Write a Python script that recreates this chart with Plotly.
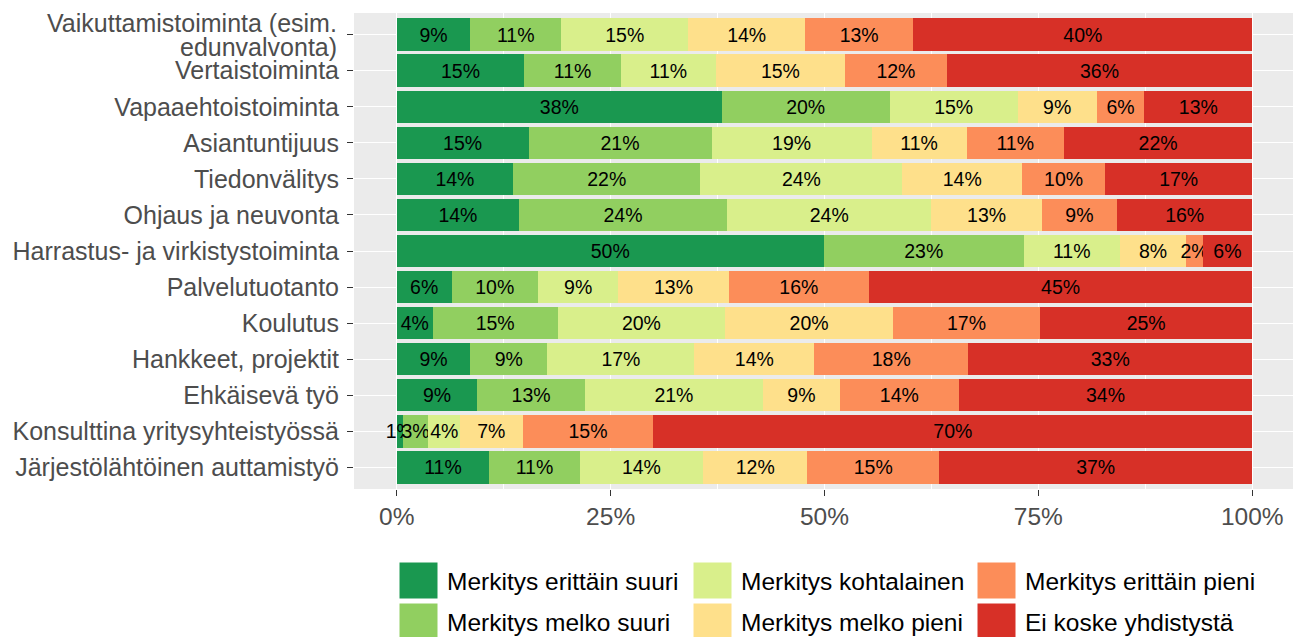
import plotly.graph_objects as go

categories = [
    "Vaikuttamistoiminta (esim. edunvalvonta)",
    "Vertaistoiminta",
    "Vapaaehtoistoiminta",
    "Asiantuntijuus",
    "Tiedonvälitys",
    "Ohjaus ja neuvonta",
    "Harrastus- ja virkistystoiminta",
    "Palvelutuotanto",
    "Koulutus",
    "Hankkeet, projektit",
    "Ehkäisevä työ",
    "Konsulttina yritysyhteistyössä",
    "Järjestölähtöinen auttamistyö",
]
# first label is wrapped onto two tightly spaced lines (drawn as annotations)
first_label_lines = ["Vaikuttamistoiminta (esim.", "edunvalvonta)"]

series_names = [
    "Merkitys erittäin suuri",
    "Merkitys melko suuri",
    "Merkitys kohtalainen",
    "Merkitys melko pieni",
    "Merkitys erittäin pieni",
    "Ei koske yhdistystä",
]

erittain_suuri = [8.6, 14.9, 38.0, 15.4, 13.6, 14.3, 49.9, 6.4, 4.2, 8.6, 9.4, 0.7, 10.8]
melko_suuri = [10.6, 11.3, 19.6, 21.4, 21.9, 24.3, 23.4, 10.1, 14.6, 9.0, 12.6, 3.0, 10.6]
kohtalainen = [14.9, 11.1, 15.0, 18.7, 23.6, 23.9, 11.2, 9.4, 19.6, 17.2, 20.8, 3.7, 14.4]
melko_pieni = [13.6, 15.1, 9.2, 11.1, 14.0, 12.9, 7.8, 12.9, 19.6, 14.0, 9.0, 7.3, 12.2]
erittain_pieni = [12.7, 11.9, 5.6, 11.4, 9.7, 8.8, 1.9, 16.4, 17.2, 18.0, 13.9, 15.3, 15.4]
ei_koske = [39.6, 35.7, 12.6, 22.0, 17.2, 15.8, 5.8, 44.8, 24.8, 33.2, 34.3, 70.0, 36.6]

series_values = [erittain_suuri, melko_suuri, kohtalainen, melko_pieni, erittain_pieni, ei_koske]
colors = ["#1a9850", "#91cf60", "#d9ef8b", "#fee08b", "#fc8d59", "#d73027"]

x_ticks = [0, 25, 50, 75, 100]
x_ticktext = ["0%", "25%", "50%", "75%", "100%"]

FONT = "Liberation Sans, Arial, sans-serif"
# page has an 8px body margin, so the figure sits at (8, 8) in the window
OFF = 8
W, H = 1293, 629
ML, MR, MT, MB = 346, 6, 5, 148
PW, PH = W - ML - MR, H - MT - MB

fig = go.Figure()
for name, vals, col in zip(series_names, series_values, colors):
    fig.add_trace(
        go.Bar(
            x=vals,
            y=categories,
            orientation="h",
            name=name,
            marker=dict(color=col, line=dict(width=0)),
            width=0.9,
            text=[f"{v:.0f}%" for v in vals],
            textposition="inside",
            insidetextanchor="middle",
            textangle=0,
            constraintext="none",
            textfont=dict(family=FONT, size=19.5, color="black"),
            showlegend=False,
            hoverinfo="x+y+name",
        )
    )


def px_x(v):
    return (v - OFF - ML) / PW


def px_y(v):
    return (H - MB - (v - OFF)) / PH


annotations = []
for line, shift in zip(first_label_lines, [12, -12]):
    annotations.append(
        dict(
            text=line, xref="paper", yref="y", x=0, y=categories[0],
            xanchor="right", yanchor="middle", xshift=-15, yshift=shift,
            showarrow=False, font=dict(family=FONT, size=25, color="#4d4d4d"),
        )
    )

# ggplot-like legend below the panel: 3 columns x 2 rows, filled column-wise
col_left = [399, 693, 977]
row_top = [562, 603]
shapes = []
for i, (name, col) in enumerate(zip(series_names, colors)):
    c, r = divmod(i, 2)
    x0, y0 = col_left[c], row_top[r]
    shapes.append(
        dict(
            type="rect", xref="paper", yref="paper",
            x0=px_x(x0), x1=px_x(x0 + 39), y0=px_y(y0 + 37), y1=px_y(y0),
            fillcolor=col, line=dict(width=1, color="white"), layer="above",
        )
    )
    annotations.append(
        dict(
            text=name, xref="paper", yref="paper",
            x=px_x(x0 + 46), y=px_y(y0 + 19.5),
            xanchor="left", yanchor="middle", showarrow=False,
            font=dict(family=FONT, size=24.5, color="black"),
        )
    )

fig.update_layout(
    barmode="stack",
    width=W,
    height=H,
    margin=dict(l=ML, r=MR, t=MT, b=MB),
    paper_bgcolor="white",
    plot_bgcolor="#ebebeb",
    font=dict(family=FONT, size=24, color="#4d4d4d"),
    showlegend=False,
    shapes=shapes,
    annotations=annotations,
    xaxis=dict(
        range=[-5, 105],
        tickvals=x_ticks,
        ticktext=x_ticktext,
        showgrid=True,
        gridcolor="white",
        gridwidth=1.2,
        zeroline=False,
        ticks="outside",
        ticklen=6,
        tickcolor="#333333",
        tickfont=dict(family=FONT, size=24.5, color="#4d4d4d"),
        minor=dict(tickvals=[12.5, 37.5, 62.5, 87.5], showgrid=True,
                   gridcolor="white", gridwidth=0.6, ticks=""),
        automargin=False,
        fixedrange=True,
    ),
    yaxis=dict(
        categoryorder="array",
        categoryarray=categories,
        tickvals=categories,
        ticktext=[""] + categories[1:],
        range=[12.6, -0.6],
        showgrid=True,
        gridcolor="white",
        gridwidth=1.2,
        ticks="outside",
        ticklen=6,
        tickcolor="#333333",
        ticklabelstandoff=3,
        tickfont=dict(family=FONT, size=25, color="#4d4d4d"),
        automargin=False,
        fixedrange=True,
    ),
)

fig.write_html("out.html")
